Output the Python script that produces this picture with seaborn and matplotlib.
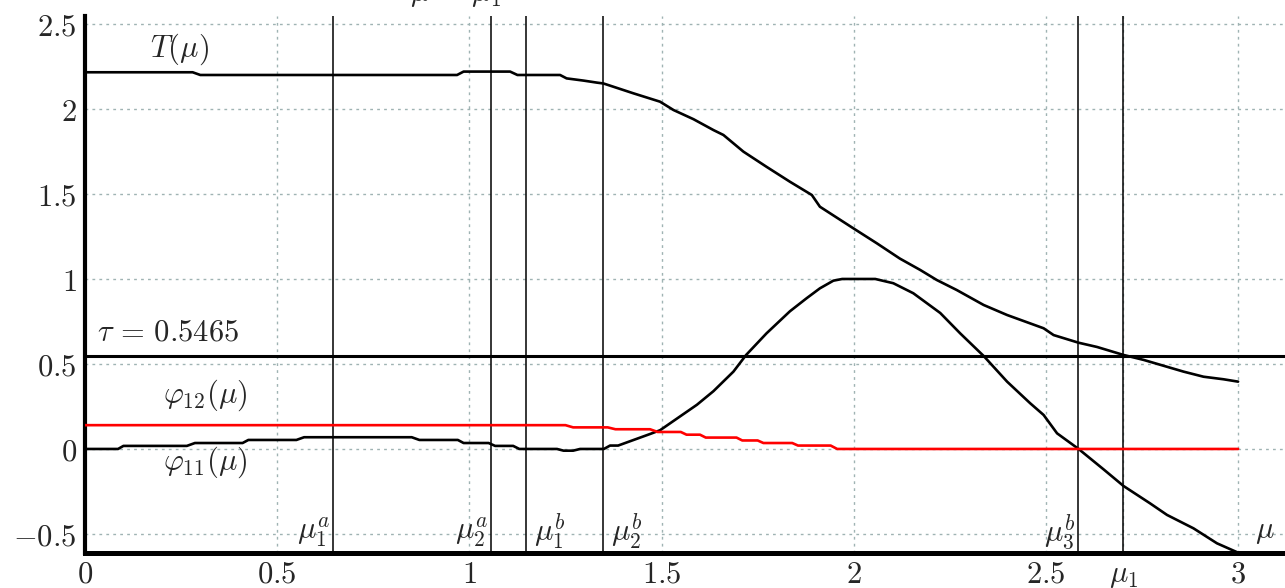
import numpy as np
import pandas as pd
import matplotlib
matplotlib.use("Agg")
import matplotlib.pyplot as plt
import seaborn as sns

# T(mu) curve
t_x = [0, 0.28, 0.30, 0.968, 0.985, 1.106, 1.125, 1.236, 1.253, 1.297, 1.332, 1.349,
       1.427, 1.496, 1.531, 1.583, 1.635, 1.661, 1.713, 1.773, 1.834, 1.891, 1.912,
       1.999, 2.06, 2.12, 2.173, 2.216, 2.268, 2.338, 2.399, 2.494, 2.52, 2.585,
       2.633, 2.702, 2.754, 2.858, 2.91, 2.962, 3.0]
t_y = [2.216, 2.216, 2.2, 2.2, 2.22, 2.22, 2.2, 2.2, 2.18, 2.167, 2.155, 2.15,
       2.092, 2.043, 1.994, 1.94, 1.876, 1.847, 1.749, 1.66, 1.572, 1.494, 1.425,
       1.298, 1.21, 1.12, 1.053, 0.994, 0.935, 0.847, 0.788, 0.71, 0.67, 0.625,
       0.60, 0.553, 0.524, 0.455, 0.425, 0.41, 0.396]

# phi_11(mu) curve
phi11_x = [0, 0.086, 0.1, 0.265, 0.286, 0.41, 0.425, 0.55, 0.57, 0.85, 0.87, 0.97,
           0.985, 1.05, 1.067, 1.114, 1.13, 1.228, 1.245, 1.27, 1.288, 1.35, 1.366,
           1.387, 1.47, 1.496, 1.592, 1.635, 1.687, 1.72, 1.773, 1.834, 1.877, 1.912,
           1.947, 1.97, 2.056, 2.103, 2.155, 2.225, 2.277, 2.338, 2.399, 2.459, 2.494,
           2.529, 2.585, 2.65, 2.702, 2.771, 2.815, 2.884, 2.945, 3.0]
phi11_y = [0, 0, 0.018, 0.018, 0.035, 0.035, 0.053, 0.053, 0.069, 0.069, 0.053, 0.053,
           0.035, 0.035, 0.018, 0.018, 0, 0, -0.01, -0.01, 0, 0, 0.02,
           0.02, 0.088, 0.11, 0.26, 0.34, 0.455, 0.553, 0.68, 0.81, 0.886, 0.945,
           0.99, 1.0, 1.0, 0.975, 0.916, 0.80, 0.68, 0.547, 0.396, 0.269, 0.2,
           0.092, 0, -0.12, -0.218, -0.32, -0.388, -0.467, -0.555, -0.61]

# phi_12(mu) curve (red)
phi12_x = [0, 1.25, 1.27, 1.36, 1.38, 1.47, 1.49, 1.55, 1.565, 1.60, 1.615, 1.695,
           1.71, 1.75, 1.765, 1.84, 1.855, 1.94, 1.957, 3.0]
phi12_y = [0.14, 0.14, 0.127, 0.127, 0.116, 0.116, 0.10, 0.10, 0.084, 0.084, 0.067, 0.067,
           0.05, 0.05, 0.035, 0.035, 0.02, 0.02, 0, 0]

tau = 0.5465

# special mu values, and which side of the line the label sits on
mu_names = [r"$\mu_1^a$", r"$\mu_2^a$", r"$\mu_1^b$", r"$\mu_2^b$", r"$\mu_3^b$", None]
mu_values = [0.645, 1.056, 1.148, 1.348, 2.584, 2.701]
mu_sides = ['left', 'left', 'right', 'right', 'left', None]

x_ticks = [0, 0.5, 1, 1.5, 2, 2.5, 2.701, 3]
x_tick_labels = [r"$0$", r"$0.5$", r"$1$", r"$1.5$", r"$2$", r"$2.5$", r"$\mu_1$", r"$3$"]
y_ticks = [-0.5, 0, 0.5, 1, 1.5, 2, 2.5]
y_tick_labels = [r"$-0.5$", r"$0$", r"$0.5$", r"$1$", r"$1.5$", r"$2$", r"$2.5$"]

sns.set_style("white")
plt.rcParams['mathtext.fontset'] = 'cm'
plt.rcParams['font.family'] = ['DejaVu Serif']

fig = plt.figure(figsize=(12.85, 5.88), dpi=100)
ax = fig.add_axes([85 / 1285, 35 / 588, 1200 / 1285, 537 / 588])

# vertical marker lines
for v in mu_values:
    ax.axvline(v, color='black', lw=1.1, zorder=2)

ax.axhline(tau, color='black', lw=2.2, zorder=3)

sns.lineplot(x=t_x, y=t_y, ax=ax, color='black', lw=1.9, estimator=None, zorder=4)
sns.lineplot(x=phi11_x, y=phi11_y, ax=ax, color='black', lw=1.9, estimator=None, zorder=4)
sns.lineplot(x=phi12_x, y=phi12_y, ax=ax, color='#ff0000', lw=1.9, estimator=None, zorder=4)

ax.set_xlim(0, 3.122)
ax.set_ylim(-0.612, 2.547)
ax.set_xticks(x_ticks)
ax.set_xticklabels(x_tick_labels)
ax.set_yticks(y_ticks)
ax.set_yticklabels(y_tick_labels)
ax.tick_params(axis='both', length=0, labelsize=22)
ax.tick_params(axis='x', pad=4)
ax.tick_params(axis='y', pad=6)
ax.grid(True, color='#9fb3b3', linestyle=(0, (2, 3)), lw=1.0, zorder=0)
ax.set_axisbelow(True)

for s in ['top', 'right']:
    ax.spines[s].set_visible(False)
ax.spines['left'].set_linewidth(3.0)
ax.spines['bottom'].set_linewidth(3.6)
ax.spines['left'].set_color('black')
ax.spines['bottom'].set_color('black')

# curve labels
ax.text(0.17, 2.35, r"$T(\mu)$", fontsize=22, va='center', ha='left')
ax.text(0.031, 0.688, r"$\tau\, =\, 0.5465$", fontsize=22, va='center', ha='left')
ax.text(0.203, 0.318, r"$\varphi_{12}(\mu)$", fontsize=22, va='center', ha='left')
ax.text(0.203, -0.076, r"$\varphi_{11}(\mu)$", fontsize=22, va='center', ha='left')

for name, v, side in zip(mu_names, mu_values, mu_sides):
    if name is None:
        continue
    if side == 'left':
        ax.text(v - 0.008, -0.49, name, fontsize=22, va='center', ha='right')
    else:
        ax.text(v + 0.02, -0.49, name, fontsize=22, va='center', ha='left')
ax.text(3.07, -0.48, r"$\mu$", fontsize=22, va='center', ha='center')

# partly clipped heading at the top edge
fig.text(410 / 1285, 1 - 1 / 588, r"$\mu\, =\, \mu_1$", fontsize=22, va='baseline', ha='left')

fig.savefig("out.png", dpi=100)
